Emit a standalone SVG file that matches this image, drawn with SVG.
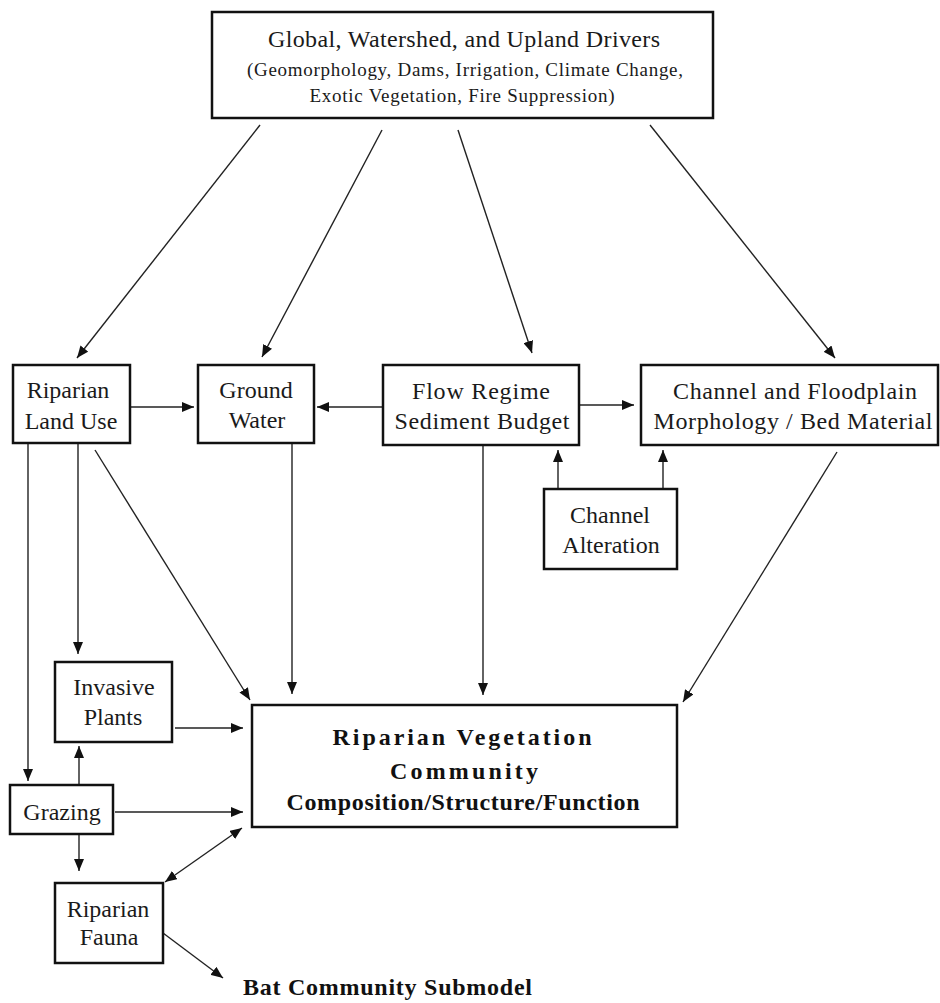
<svg xmlns="http://www.w3.org/2000/svg" width="940" height="1003" viewBox="0 0 940 1003">
  <style>
    .box { fill: #ffffff; stroke: #111111; stroke-width: 2.5; }
    .lbl { font-size: 24px; fill: #1a1a1a; text-anchor: middle; }
    .sub { font-size: 19px; }
    .bold { font-weight: bold; fill: #111111; }
    .link { stroke: #222222; stroke-width: 1.4; fill: none; marker-end: url(#arrow); }
    .both { marker-start: url(#arrow); }
  </style>
  <defs>
    <marker id="arrow" markerUnits="userSpaceOnUse" markerWidth="12" markerHeight="10" refX="12" refY="5" orient="auto-start-reverse">
      <path d="M0,0 L12,5 L0,10 z" fill="#111111"/>
    </marker>
  </defs>
  <rect width="940" height="1003" fill="#ffffff"/>

  <!-- connectors -->
  <g id="connectors">
    <line class="link" x1="260" y1="125" x2="77" y2="358"/>
    <line class="link" x1="382" y1="130" x2="262" y2="357"/>
    <line class="link" x1="458" y1="130" x2="532" y2="353"/>
    <line class="link" x1="650" y1="125" x2="835" y2="358"/>
    <line class="link" x1="131" y1="407" x2="194" y2="407"/>
    <line class="link" x1="382" y1="407" x2="317" y2="407"/>
    <line class="link" x1="580" y1="405" x2="634" y2="405"/>
    <line class="link" x1="558" y1="489" x2="558" y2="450"/>
    <line class="link" x1="663" y1="489" x2="663" y2="450"/>
    <line class="link" x1="28" y1="444" x2="28" y2="781"/>
    <line class="link" x1="78" y1="444" x2="78" y2="654"/>
    <line class="link" x1="95" y1="450" x2="250" y2="700"/>
    <line class="link" x1="292" y1="444" x2="292" y2="694"/>
    <line class="link" x1="483" y1="446" x2="483" y2="695"/>
    <line class="link" x1="837" y1="452" x2="683" y2="702"/>
    <line class="link" x1="175" y1="728" x2="243" y2="728"/>
    <line class="link" x1="115" y1="812" x2="243" y2="812"/>
    <line class="link" x1="79" y1="785" x2="79" y2="746"/>
    <line class="link" x1="79" y1="835" x2="79" y2="871"/>
    <line class="link both" x1="165" y1="882" x2="242" y2="828"/>
    <line class="link" x1="163" y1="933" x2="223" y2="978"/>
  </g>

  <g id="nodes" font-family="Liberation Serif, Times New Roman, serif">
  <g id="drivers">
    <rect class="box" x="212" y="12" width="501" height="106"/>
    <text class="lbl" x="464" y="47" textLength="392" lengthAdjust="spacing">Global, Watershed, and Upland Drivers</text>
    <text class="lbl sub" x="465" y="76" textLength="436" lengthAdjust="spacing">(Geomorphology, Dams, Irrigation, Climate Change,</text>
    <text class="lbl sub" x="462" y="102" textLength="305" lengthAdjust="spacing">Exotic Vegetation, Fire Suppression)</text>
  </g>

  <g id="land-use">
    <rect class="box" x="13" y="365" width="117" height="78"/>
    <text class="lbl" x="68" y="398">Riparian</text>
    <text class="lbl" x="71" y="429">Land Use</text>
  </g>

  <g id="ground-water">
    <rect class="box" x="198" y="365" width="116" height="78"/>
    <text class="lbl" x="256" y="398">Ground</text>
    <text class="lbl" x="257" y="428">Water</text>
  </g>

  <g id="flow-regime">
    <rect class="box" x="383" y="365" width="196" height="80"/>
    <text class="lbl" x="481" y="399" textLength="138" lengthAdjust="spacing">Flow Regime</text>
    <text class="lbl" x="482" y="429" textLength="175" lengthAdjust="spacing">Sediment Budget</text>
  </g>

  <g id="channel-morphology">
    <rect class="box" x="641" y="365" width="297" height="80"/>
    <text class="lbl" x="795" y="399" textLength="244" lengthAdjust="spacing">Channel and Floodplain</text>
    <text class="lbl" x="793" y="429" textLength="279" lengthAdjust="spacing">Morphology / Bed Material</text>
  </g>

  <g id="channel-alteration">
    <rect class="box" x="544" y="489" width="133" height="80"/>
    <text class="lbl" x="610" y="523">Channel</text>
    <text class="lbl" x="611" y="553">Alteration</text>
  </g>

  <g id="invasive-plants">
    <rect class="box" x="55" y="662" width="117" height="80"/>
    <text class="lbl" x="114" y="695">Invasive</text>
    <text class="lbl" x="113" y="725">Plants</text>
  </g>

  <g id="grazing">
    <rect class="box" x="10" y="785" width="103" height="49"/>
    <text class="lbl" x="62" y="820">Grazing</text>
  </g>

  <g id="riparian-fauna">
    <rect class="box" x="55" y="883" width="108" height="80"/>
    <text class="lbl" x="108" y="917">Riparian</text>
    <text class="lbl" x="109" y="945">Fauna</text>
  </g>

  <g id="vegetation-community">
    <rect class="box" x="252" y="705" width="425" height="122"/>
    <text class="lbl bold" x="462" y="745" font-size="27" textLength="259" lengthAdjust="spacing">Riparian Vegetation</text>
    <text class="lbl bold" x="464" y="779" font-size="27" textLength="148" lengthAdjust="spacing">Community</text>
    <text class="lbl bold" x="463" y="810" font-size="21" textLength="353" lengthAdjust="spacing">Composition/Structure/Function</text>
  </g>

  <g id="bat-submodel">
    <text class="lbl bold" x="243" y="995" font-size="22" style="text-anchor:start" textLength="289" lengthAdjust="spacing">Bat Community Submodel</text>
  </g>
  </g>
</svg>
